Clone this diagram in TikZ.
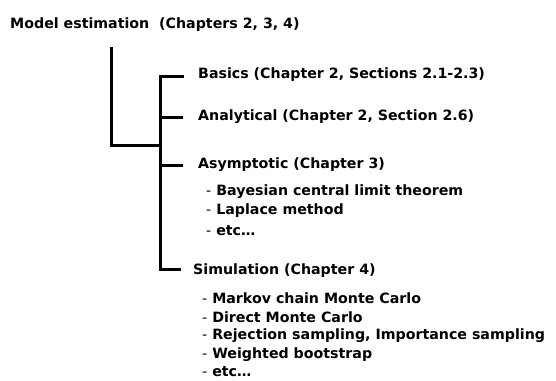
\documentclass[tikz,border=0pt]{standalone}
\usepackage{fontspec}
\setmainfont{DejaVu Sans}
\usetikzlibrary{positioning, calc}
\newcommand{\dsh}{{\mdseries -}\ }

\begin{document}
\begin{tikzpicture}[
  x=1pt, y=-1pt,
  lbl/.style={font=\fontsize{14.2}{16}\selectfont\bfseries, anchor=west, inner sep=0pt},
  item/.style={lbl},
  bar/.style={line width=3pt, line cap=rect}
]
\useasboundingbox (0,0) rectangle (556,380);
% title
\node[lbl] (root) at (10,25) {Model estimation\ \ (Chapters 2, 3, 4)};
% branches
\node[lbl] (basics) at (198,75) {Basics (Chapter 2, Sections 2.1-2.3)};
\node[lbl] (analyt) at (198,117) {Analytical (Chapter 2, Section 2.6)};
\node[lbl] (asympt) at (198,165) {Asymptotic (Chapter 3)};
\node[item] (bclt) at (206,192) {\dsh Bayesian central limit theorem};
\node[item] (lapl) at (206,211) {\dsh Laplace method};
\node[item] (etc1) at (206,231) {\dsh etc\dots};
\node[lbl] (simul) at (193,271) {Simulation (Chapter 4)};
\node[item] (mcmc) at (202,298) {\dsh Markov chain Monte Carlo};
\node[item] (dmc) at (202,317) {\dsh Direct Monte Carlo};
\node[item] (rej) at (202,336) {\dsh Rejection sampling, Importance sampling};
\node[item] (wboot) at (202,355) {\dsh Weighted bootstrap};
\node[item] (etc2) at (202,372) {\dsh etc\dots};
% tree
\coordinate (top) at (111,48);
\coordinate (joint) at (111,145);
\coordinate (spine) at (160,76);
\coordinate (foot) at (160,269);
\draw[bar] (top) -- (joint) -- (joint -| spine);
\draw[bar] (spine) -- (foot) -- ++(19,0);
\draw[bar] (spine) -- ++(22,0);
\draw[bar] (spine |- analyt.west) -- ++(21,0);
\draw[bar] (spine |- asympt.west) -- ++(21,0);
\end{tikzpicture}
\end{document}
